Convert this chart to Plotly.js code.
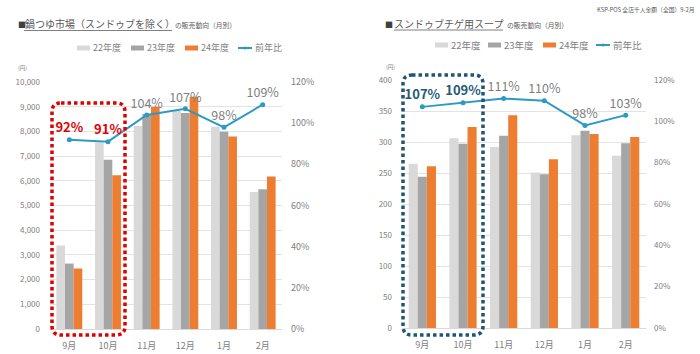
<!DOCTYPE html>
<html><head><meta charset="utf-8">
<script src="https://cdn.plot.ly/plotly-3.0.1.min.js"></script>
<style>html,body{margin:0;padding:0;background:#fff}#c{width:700px;height:354px}</style>
</head><body><div id="c"></div>
<script>
// ---- data ----
const months = ['9月','10月','11月','12月','1月','2月'];
const seriesNames = ['22年度','23年度','24年度','前年比'];
// 鍋つゆ市場（スンドゥブを除く） 円
const nabeFY22 = [3380, 7550, 8220, 8830, 8190, 5550];
const nabeFY23 = [2650, 6850, 8700, 8750, 7990, 5660];
const nabeFY24 = [2450, 6220, 9000, 9400, 7790, 6170];
const nabeYoY  = [92, 91, 104, 107, 98, 109];
// スンドゥブチゲ用スープ 円
const sundFY22 = [265, 306, 292, 251, 311, 278];
const sundFY23 = [244, 297, 310, 248, 318, 298];
const sundFY24 = [261, 324, 343, 272, 313, 308];
const sundYoY  = [107, 109, 111, 110, 98, 103];
const leftTicks = [0,1000,2000,3000,4000,5000,6000,7000,8000,9000,10000];
const rightTicks = [0,50,100,150,200,250,300,350,400];
const pctTicks = [0,20,40,60,80,100,120];
const pctLabels = ['0%','20%','40%','60%','80%','100%','120%'];

// ---- styles ----
const W = 700, H = 354;
const px = x => x / W, py = y => (H - y) / H;
const C22 = '#d9d9d9', C23 = '#a5a5a5', C24 = '#ed7d31', CL = '#2b9ac4';
const FONT = '"Noto Sans CJK JP", "Noto Sans", sans-serif';
const TICKC = '#808080';

function bars(y, name, color, xa, ya) {
  return {type:'bar', x: months, y: y, name: name, marker:{color: color}, xaxis: xa, yaxis: ya, showlegend:false, hoverinfo:'skip'};
}
function line(y, xa, ya, hi, hiColor) {
  return {type:'scatter', mode:'lines+markers+text', x: months, y: y, xaxis: xa, yaxis: ya,
    line:{color: CL, width: 2}, marker:{color: CL, size: 5}, showlegend:false, hoverinfo:'skip',
    text: y.map((v,i)=> hi.includes(i) ? '<b>'+v+'%</b>' : v+'%'),
    textposition:'top center', cliponaxis:false,
    textfont:{family: FONT, size: y.map((v,i)=> hi.includes(i) ? 13 : 12.5), color: y.map((v,i)=> hi.includes(i) ? hiColor : '#7f7f7f')}};
}

const data = [
  bars(nabeFY22, seriesNames[0], C22, 'x', 'y'),
  bars(nabeFY23, seriesNames[1], C23, 'x', 'y'),
  bars(nabeFY24, seriesNames[2], C24, 'x', 'y'),
  line(nabeYoY, 'x', 'y2', [0,1], '#e00000'),
  bars(sundFY22, seriesNames[0], C22, 'x2', 'y3'),
  bars(sundFY23, seriesNames[1], C23, 'x2', 'y3'),
  bars(sundFY24, seriesNames[2], C24, 'x2', 'y3'),
  line(sundYoY, 'x2', 'y4', [0,1], '#1f5a78'),
];

const xcommon = {type:'category', tickfont:{family: FONT, size: 9, color: TICKC}, showline:true, linecolor:'#d9d9d9', linewidth:1, ticks:'', showgrid:false, ticklabelstandoff: 8, fixedrange:true};
const ygrid = {showgrid:true, gridcolor:'#e3e3e3', gridwidth:1, zeroline:false, ticks:'', showline:false, tickfont:{family: FONT, size: 8, color: TICKC}, fixedrange:true};

const layout = {
  width: W, height: H, margin:{l:0,r:0,t:0,b:0}, paper_bgcolor:'#fff', plot_bgcolor:'rgba(0,0,0,0)',
  barmode:'group', bargap: 0.33, bargroupgap: 0, showlegend:false,
  font:{family: FONT, color:'#595959'},
  xaxis: Object.assign({}, xcommon, {domain:[px(50), px(282)], anchor:'y'}),
  yaxis: Object.assign({}, ygrid, {domain:[py(329), py(82)], range:[0,10000], tickvals: leftTicks, tickformat:',d', ticklabelstandoff: 9, anchor:'x'}),
  yaxis2: Object.assign({}, ygrid, {overlaying:'y', side:'right', anchor:'x', range:[0,120], tickmode:'array', tickvals: pctTicks, ticktext: pctLabels, showgrid:false, tickfont:{family: FONT, size: 9, color: TICKC}, ticklabelstandoff: 8}),
  xaxis2: Object.assign({}, xcommon, {domain:[px(402), px(646)], anchor:'y3'}),
  yaxis3: Object.assign({}, ygrid, {domain:[py(328), py(80)], range:[0,400], tickvals: rightTicks, ticklabelstandoff: 9, anchor:'x2'}),
  yaxis4: Object.assign({}, ygrid, {overlaying:'y3', side:'right', anchor:'x2', range:[0,120], tickmode:'array', tickvals: pctTicks, ticktext: pctLabels, showgrid:false, tickfont:{family: FONT, size: 8, color: TICKC}, ticklabelstandoff: 7}),
  shapes: [], annotations: []
};

const S = layout.shapes, A = layout.annotations;
function txt(x, y, t, size, color, anchor) {
  A.push({xref:'paper', yref:'paper', x: px(x), y: py(y), text: t, showarrow:false, xanchor: anchor || 'left', yanchor:'middle',
    font:{family: FONT, size: size, color: color || '#595959'}});
}
function rect(x0, y0, x1, y1, color) {
  S.push({type:'rect', xref:'paper', yref:'paper', x0: px(x0), x1: px(x1), y0: py(y0), y1: py(y1), fillcolor: color, line:{width:0}});
}
function hline(x0, x1, y, color, w) {
  S.push({type:'line', xref:'paper', yref:'paper', x0: px(x0), x1: px(x1), y0: py(y), y1: py(y), line:{color: color, width: w}});
}
function roundRect(x0, y0, x1, y1, r, color) {
  const rx = r / W, ry = r / H;
  const X0 = px(x0), X1 = px(x1), Yt = py(y0), Yb = py(y1);
  const p = `M ${X0+rx},${Yt} L ${X1-rx},${Yt} Q ${X1},${Yt} ${X1},${Yt-ry} L ${X1},${Yb+ry} Q ${X1},${Yb} ${X1-rx},${Yb} L ${X0+rx},${Yb} Q ${X0},${Yb} ${X0},${Yb+ry} L ${X0},${Yt-ry} Q ${X0},${Yt} ${X0+rx},${Yt} Z`;
  S.push({type:'path', xref:'paper', yref:'paper', path: p, line:{color: color, width: 3.5, dash:'3.5px,3px'}, layer:'above'});
}

// titles
txt(16, 24, '■', 8, '#404040');
txt(23, 23, '鍋つゆ市場（スンドゥブを除く）', 10, '#595959');
hline(24, 172, 30.5, '#7f7f7f', 1);
txt(173, 24.5, 'の販売動向（月別）', 6.8, '#595959');

txt(383, 24, '■', 8, '#404040');
txt(392, 23, 'スンドゥブチゲ用スープ', 10, '#595959');
hline(394, 503, 30, '#7f7f7f', 1);
txt(505, 24.5, 'の販売動向（月別）', 6.8, '#595959');

txt(697, 9, 'KSP-POS 全店千人金額（全国）9-2月', 5.8, '#595959', 'right');

// unit labels
txt(16, 68, '(円)', 5.5, TICKC);
txt(384, 67, '(円)', 5.5, TICKC);

// legends
function legend(xs, y, size) {
  const cols = [C22, C23, C24];
  for (let i = 0; i < 3; i++) {
    rect(xs[i], y-2.5, xs[i]+13, y+2.5, cols[i]);
    txt(xs[i]+14, y, seriesNames[i], size, '#7f7f7f');
  }
  hline(xs[3], xs[3]+14, y, CL, 2);
  S.push({type:'circle', xref:'paper', yref:'paper', x0: px(xs[3]+5.5), x1: px(xs[3]+8.5), y0: py(y+1.5), y1: py(y-1.5), fillcolor: CL, line:{width:0}});
  txt(xs[3]+15, y, seriesNames[3], size, '#7f7f7f');
}
legend([77, 131, 185, 238], 48, 9);
legend([435, 488, 543, 596], 45, 9.5);

// highlight frames
roundRect(52, 103, 125, 335, 9, '#e00000');
roundRect(403, 75, 483, 335, 9, '#1f5673');

Plotly.newPlot('c', data, layout, {displayModeBar:false, staticPlot:true});
</script>
</body></html>
